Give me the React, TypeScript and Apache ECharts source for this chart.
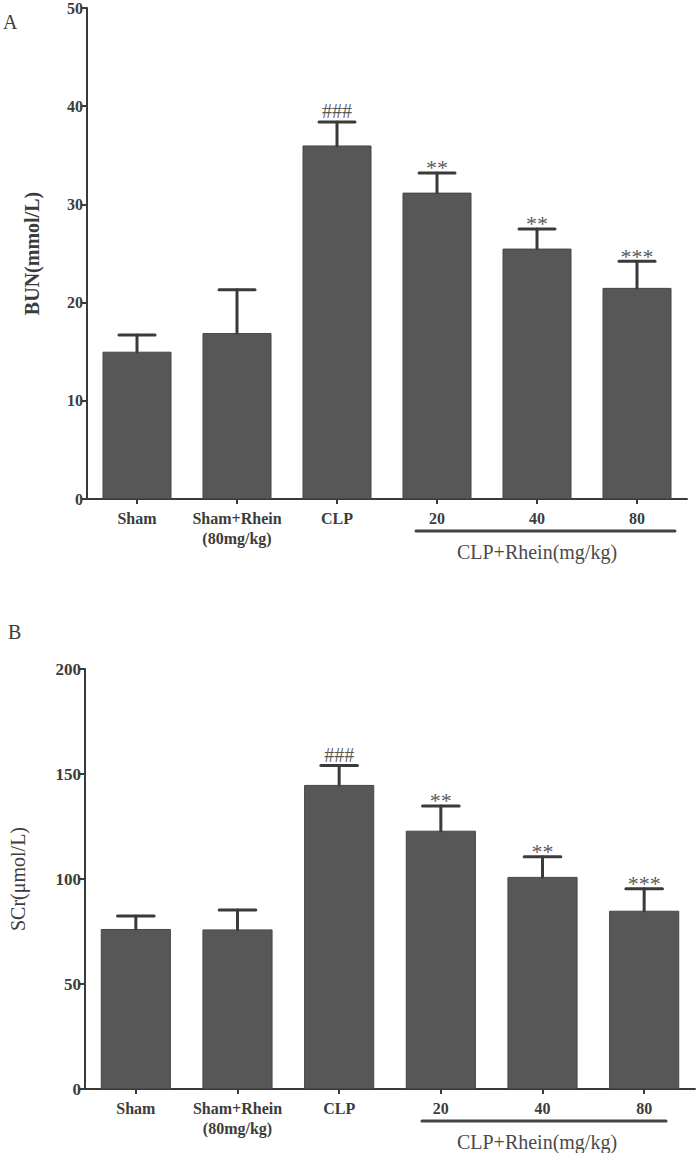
import React, { useEffect, useRef } from "react";
import * as echarts from "echarts";

const categories = ["Sham", "Sham+Rhein\n(80mg/kg)", "CLP", "20", "40", "80"];
const bunMean = [15.0, 16.9, 36.0, 31.2, 25.5, 21.5];
const bunSD = [1.7, 4.4, 2.4, 2.0, 2.0, 2.7];
const scrMean = [76.2, 76.0, 144.8, 123.0, 101.0, 84.9];
const scrSD = [6.2, 9.2, 9.2, 11.8, 9.6, 10.5];
const marks = ["", "", "###", "**", "**", "***"];
const bunTicks = { min: 0, max: 50, interval: 10 };
const scrTicks = { min: 0, max: 200, interval: 50 };

const SERIF = "'Liberation Serif', 'Times New Roman', serif";
const AXIS = "#3a3a3a";
const BAR = "#575757";
const TXT = "#3c3c3c";

function errorSeries(xAxisIndex: number, yAxisIndex: number, mean: number[], sd: number[]) {
  return {
    type: "custom",
    xAxisIndex,
    yAxisIndex,
    z: 5,
    data: mean.map((m, i) => [i, m, sd[i]]),
    renderItem: (params: any, api: any) => {
      const i = api.value(0);
      const m = api.value(1);
      const s = api.value(2);
      const p0 = api.coord([i, m]);
      const p1 = api.coord([i, m + s]);
      const half = api.size([1, 0])[0] * 0.18;
      const mark = marks[params.dataIndex];
      const isStar = mark.indexOf("*") >= 0;
      const lineStyle = { stroke: AXIS, lineWidth: 3, lineCap: "round" };
      const children: any[] = [
        { type: "line", shape: { x1: p0[0], y1: p0[1], x2: p1[0], y2: p1[1] }, style: lineStyle },
        { type: "line", shape: { x1: p1[0] - half, y1: p1[1], x2: p1[0] + half, y2: p1[1] }, style: lineStyle },
      ];
      if (mark) {
        children.push({
          type: "text",
          x: p1[0],
          y: p1[1] - (isStar ? 5 : 11),
          style: {
            text: mark,
            fill: "#5a5a5a",
            fontSize: isStar ? 22 : 20,
            fontFamily: SERIF,
            align: "center",
            verticalAlign: "middle",
            textAlign: "center",
            textVerticalAlign: "middle",
          },
        });
      }
      return { type: "group", children };
    },
  };
}

function xAxis(gridIndex: number, fontSize: number) {
  return {
    type: "category",
    gridIndex,
    data: categories,
    axisLine: { show: true, lineStyle: { color: AXIS, width: 2 } },
    axisTick: { show: true, alignWithLabel: true, length: 5, lineStyle: { color: AXIS, width: 2 } },
    axisLabel: {
      color: TXT,
      fontFamily: SERIF,
      fontWeight: "bold",
      fontSize,
      lineHeight: 20,
      margin: 9,
      interval: 0,
    },
  };
}

function yAxis(gridIndex: number, ticks: any, name: string, bold: boolean, nameGap: number, fontSize: number) {
  return {
    type: "value",
    gridIndex,
    min: ticks.min,
    max: ticks.max,
    interval: ticks.interval,
    name,
    nameLocation: "middle",
    nameRotate: 90,
    nameGap,
    nameTextStyle: {
      color: TXT,
      fontFamily: SERIF,
      fontWeight: bold ? "bold" : "normal",
      fontSize: 20,
    },
    splitLine: { show: false },
    axisLine: { show: true, lineStyle: { color: AXIS, width: 2 } },
    axisTick: { show: true, length: 6, lineStyle: { color: AXIS, width: 2 } },
    axisLabel: { color: TXT, fontFamily: SERIF, fontWeight: "bold", fontSize, margin: 4 },
  };
}

export default function App() {
  const ref = useRef<HTMLDivElement>(null);
  useEffect(() => {
    if (!ref.current) return;
    const chart = echarts.init(ref.current, null, { renderer: "svg" });
    const barStyle = { color: BAR, borderColor: "#474747", borderWidth: 1 };
    chart.setOption({
      animation: false,
      backgroundColor: "#ffffff",
      grid: [
        { left: 87, top: 8, width: 600, height: 491 },
        { left: 71, top: 669, width: 624, height: 420 },
      ],
      xAxis: [xAxis(0, 16), xAxis(1, 16)],
      yAxis: [
        yAxis(0, bunTicks, "BUN(mmol/L)", true, 45, 16),
        yAxis(1, scrTicks, "SCr(μmol/L)", false, 57, 17),
      ],
      series: [
        { type: "bar", xAxisIndex: 0, yAxisIndex: 0, data: bunMean, barWidth: "69%", itemStyle: barStyle },
        errorSeries(0, 0, bunMean, bunSD),
        { type: "bar", xAxisIndex: 1, yAxisIndex: 1, data: scrMean, barWidth: "69%", itemStyle: barStyle },
        errorSeries(1, 1, scrMean, scrSD),
      ],
      graphic: [
        { type: "text", left: 3, top: 12, style: { text: "A", fill: TXT, fontSize: 20, fontFamily: SERIF } },
        { type: "text", left: 8, top: 622, style: { text: "B", fill: TXT, fontSize: 20, fontFamily: SERIF } },
        { type: "line", shape: { x1: 416, y1: 531, x2: 675, y2: 531 }, style: { stroke: "#444", lineWidth: 3, lineCap: "round" } },
        {
          type: "text",
          x: 537,
          y: 552,
          style: { text: "CLP+Rhein(mg/kg)", fill: "#4a4a4a", fontSize: 20, fontFamily: SERIF, align: "center", verticalAlign: "middle", textAlign: "center", textVerticalAlign: "middle" },
        },
        { type: "line", shape: { x1: 422, y1: 1121, x2: 666, y2: 1121 }, style: { stroke: "#444", lineWidth: 3, lineCap: "round" } },
        {
          type: "text",
          x: 537,
          y: 1142,
          style: { text: "CLP+Rhein(mg/kg)", fill: "#4a4a4a", fontSize: 20, fontFamily: SERIF, align: "center", verticalAlign: "middle", textAlign: "center", textVerticalAlign: "middle" },
        },
      ],
    });
    return () => chart.dispose();
  }, []);
  return (
    <div
      ref={ref}
      style={{ position: "absolute", left: 0, top: 0, width: 700, height: 1153, background: "#fff" }}
    />
  );
}
